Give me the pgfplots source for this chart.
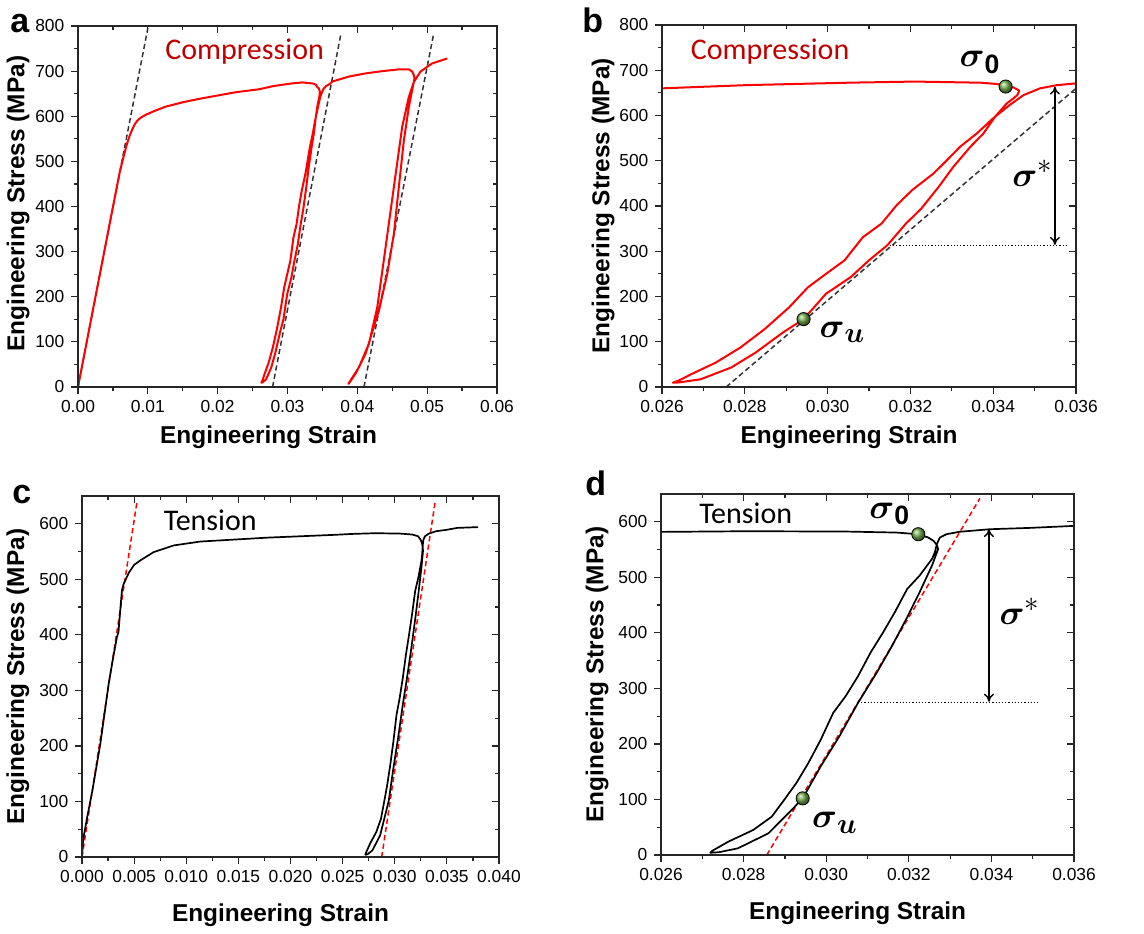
\documentclass[border=0pt]{standalone}
\usepackage{amsmath}
\usepackage{fontspec}
\setmainfont{Liberation Sans}
\newfontfamily\carlito{Carlito}
\usepackage{pgfplots}
\pgfplotsset{compat=1.18}
\usepackage{pgfplotstable}
\usetikzlibrary{arrows.meta}
\definecolor{compred}{RGB}{192,0,0}
\definecolor{curvered}{RGB}{255,0,0}
\definecolor{ballg}{RGB}{115,175,75}

\pgfplotstableread{
x y
0 0
0.0025 200
0.0050 399
0.0060 478
0.0066 515
0.0070 538
0.0074 557
0.0078 572
0.0082 584
0.0086 592
0.0091 598
0.0098 604
0.0110 612
0.0125 621
0.0150 631
0.0175 639
0.0200 646
0.0225 653
0.0250 658
0.0260 660
0.0280 667
0.0305 672.5
0.0321 675
0.0337 672.5
0.0341 669.5
0.0343 664
0.03449 662
0.03463 655
0.03458 645
0.03449 638
0.03433 627
0.03405 598
0.03376 560
0.03345 531
0.03304 487
0.03268 442
0.03226 394
0.03189 361
0.03144 313
0.0310 280
0.03056 243
0.02996 206
0.02942 150
0.02893 121
0.02826 76
0.02767 43
0.02693 17
0.02640 10
0.02626 9.6
0.02640 14
0.0267 28
0.0273 54
0.02789 87
0.02848 128
0.02907 176
0.02952 220
0.02996 250
0.03041 280
0.03085 331
0.0313 361
0.03167 402
0.03204 435
0.03256 472
0.03288 501
0.0332 531
0.0336 560
0.0340 594
0.03441 624
0.03473 645
0.03513 660
0.03553 667
0.0360 671
0.03643 677
0.0388 688
0.0412 695
0.0436 700
0.0460 704
0.0474 704
0.04786 699
0.0481 691
0.04819 684
0.04738 621
0.04667 547
0.04595 444
0.04524 340
0.04429 251
0.0431 170
0.04119 74
0.03976 30
0.03881 8
0.03871 7
0.04024 44
0.04167 96
0.04286 177
0.04405 310
0.04524 444
0.04643 577
0.04738 643
0.0481 676
0.04905 699
0.0507 717
0.05286 728
}\compdata

\pgfplotstableread{
x y
0 0
0.0001 30
0.0005 72
0.0010 120
0.00176 204
0.00256 312
0.0030 360
0.00335 396
0.0035 405
0.00365 440
0.00383 480
0.0040 492
0.0045 512
0.0050 526
0.00559 534
0.00687 549
0.00879 561
0.01134 568
0.01773 575
0.02412 580
0.0260 581.8
0.02807 583
0.03049 582.4
0.0317 580.6
0.03223 577.6
0.03247 571.6
0.0326 565.6
0.03268 558
0.03271 551
0.03256 521
0.03226 473
0.03196 428
0.03159 376
0.03122 328
0.03077 274
0.03032 214
0.02987 160
0.02943 102
0.0292 84
0.0286 39
0.02786 12
0.02740 5
0.02719 4
0.02725 8
0.02763 24
0.02823 45
0.02868 69
0.02898 99
0.02928 130
0.02957 166
0.02987 208
0.03017 256
0.03047 286
0.03077 322
0.03107 364
0.03137 400
0.03166 437
0.03196 479
0.03226 503
0.03256 533
0.03263 545
0.03268 560
0.03275 571.6
0.03291 577.6
0.03323 582
0.03396 586.6
0.03493 589
0.0360 592.6
0.0380 594
}\tensdata

\tikzset{
  sig/.style={font=\fontsize{19}{20}\selectfont, inner sep=0pt},
  lbl/.style={font=\carlito\fontsize{15}{18}\selectfont},
}

\pgfplotsset{
  common/.style={
    scale only axis, anchor=north west,
    axis line style={line width=0.7pt, black!85},
    every tick/.style={black!85, line width=0.6pt},
    major tick length=3.3pt, minor tick length=1.8pt,
    scaled x ticks=false, scaled y ticks=false,
  },
  mainax/.style={common, tick align=outside, xtick pos=left, ytick pos=left,
    ticklabel style={font=\fontsize{8.7}{10}\selectfont},
    /pgf/number format/assume math mode=true,
    label style={font=\bfseries\fontsize{12.2}{14}\selectfont},
    xlabel={Engineering Strain}, ylabel={Engineering Stress (MPa)},
  },
  overax/.style={common, tick align=inside, xtick pos=right, ytick pos=right,
    xticklabels={}, yticklabels={}},
  panelA/.style={at={(39pt,-13pt)}, width=209.5pt, height=180.5pt,
    xmin=0, xmax=0.06, ymin=0, ymax=800,
    xtick={0,0.01,0.02,0.03,0.04,0.05,0.06},
    minor xtick={0.005,0.015,0.025,0.035,0.045,0.055},
    ytick={0,100,...,800}, minor ytick={50,150,...,750},
    xticklabel style={/pgf/number format/.cd, fixed, fixed zerofill, precision=2},
    xlabel style={at={(axis description cs:0.455,-0.1385)}, anchor=center},
    ylabel style={at={(axis description cs:-0.143,0.508)}, anchor=center},
  },
  panelB/.style={at={(331pt,-12.5pt)}, width=207pt, height=181pt,
    xmin=0.026, xmax=0.036, ymin=0, ymax=800,
    xtick={0.026,0.028,0.030,0.032,0.034,0.036},
    minor xtick={0.027,0.029,0.031,0.033,0.035},
    ytick={0,100,...,800}, minor ytick={50,150,...,750},
    xticklabel style={/pgf/number format/.cd, fixed, fixed zerofill, precision=3},
    xlabel style={at={(axis description cs:0.452,-0.1385)}, anchor=center},
    ylabel style={at={(axis description cs:-0.1425,0.5)}, anchor=center},
  },
  panelC/.style={at={(41pt,-248pt)}, width=208.5pt, height=180.5pt,
    xmin=0, xmax=0.04, ymin=0, ymax=650,
    xtick={0,0.005,0.010,0.015,0.020,0.025,0.030,0.035,0.040},
    minor xtick={0.0025,0.0075,0.0125,0.0175,0.0225,0.0275,0.0325,0.0375},
    ytick={0,100,...,600}, minor ytick={50,150,...,550},
    xticklabel style={/pgf/number format/.cd, fixed, fixed zerofill, precision=3},
    xlabel style={at={(axis description cs:0.476,-0.1607)}, anchor=center},
    ylabel style={at={(axis description cs:-0.1535,0.5)}, anchor=center},
  },
  panelD/.style={at={(330.5pt,-247pt)}, width=206.5pt, height=180.5pt,
    xmin=0.026, xmax=0.036, ymin=0, ymax=650,
    xtick={0.026,0.028,0.030,0.032,0.034,0.036},
    minor xtick={0.027,0.029,0.031,0.033,0.035},
    ytick={0,100,...,600}, minor ytick={50,150,...,550},
    xticklabel style={/pgf/number format/.cd, fixed, fixed zerofill, precision=3},
    xlabel style={at={(axis description cs:0.476,-0.1607)}, anchor=center},
    ylabel style={at={(axis description cs:-0.155,0.5)}, anchor=center},
  },
  compcurve/.style={curvered, line width=1pt, line join=round},
  tenscurve/.style={black, line width=0.85pt, line join=round},
  blkdash/.style={black!80, line width=0.75pt, dash pattern=on 2.6pt off 1.6pt},
  reddash/.style={red, line width=0.75pt, dash pattern=on 2.6pt off 1.6pt},
}

\begin{document}
\begin{tikzpicture}
\useasboundingbox (0,0) rectangle (572pt,-466.5pt);

% ---------- panel a ----------
\begin{axis}[mainax, panelA]
\addplot [blkdash] coordinates {(0,0) (0.0100,795)};
\addplot [blkdash] coordinates {(0.02786,0) (0.03762,780)};
\addplot [blkdash] coordinates {(0.04095,0) (0.05095,784)};
\addplot [compcurve] table [x=x, y=y] {\compdata};
\node [lbl, text=compred] at (axis cs:0.02386,743) {Compression};
\end{axis}
\begin{axis}[overax, panelA]\end{axis}

% ---------- panel b ----------
\begin{axis}[mainax, panelB]
\addplot [blkdash] coordinates {(0.02755,0) (0.0360,660)};
\addplot [black, line width=0.6pt, densely dotted] coordinates {(0.03150,312) (0.03582,312)};
\addplot [black, line width=0.7pt, {To[length=4pt,width=5pt]}-{To[length=4pt,width=5pt]}] coordinates {(0.03549,314) (0.03549,664)};
\addplot [compcurve] table [x=x, y=y] {\compdata};
\addplot [only marks, mark=ball, mark size=3.3pt, ball color=ballg] coordinates {(0.0343,664) (0.02942,150)};
\node [lbl, text=compred] at (axis cs:0.02861,741) {Compression};
\node [sig] at (axis cs:0.03368,717) {$\boldsymbol{\sigma}_{\mathbf{0}}$};
\node [sig] at (axis cs:0.03495,472) {$\boldsymbol{\sigma}^{*}$};
\node [sig] at (axis cs:0.03036,120) {$\boldsymbol{\sigma}_{\boldsymbol{u}}$};
\end{axis}
\begin{axis}[overax, panelB]\end{axis}

% ---------- panel c ----------
\begin{axis}[mainax, panelC]
\addplot [reddash] coordinates {(0,0) (0.00527,639)};
\addplot [reddash] coordinates {(0.02875,0) (0.03387,639)};
\addplot [tenscurve] table [x=x, y=y] {\tensdata};
\node [lbl, text=black] at (axis cs:0.0123,606) {Tension};
\end{axis}
\begin{axis}[overax, panelC]\end{axis}

% ---------- panel d ----------
\begin{axis}[mainax, panelD]
\addplot [reddash] coordinates {(0.02856,0) (0.03372,642)};
\addplot [black, line width=0.6pt, densely dotted] coordinates {(0.03077,274) (0.03513,274)};
\addplot [black, line width=0.7pt, {To[length=4pt,width=5pt]}-{To[length=4pt,width=5pt]}] coordinates {(0.03394,276) (0.03394,587)};
\addplot [tenscurve] table [x=x, y=y] {\tensdata};
\addplot [only marks, mark=ball, mark size=3.3pt, ball color=ballg] coordinates {(0.03223,577.6) (0.02943,102)};
\node [lbl, text=black] at (axis cs:0.02805,615) {Tension};
\node [sig] at (axis cs:0.03154,614) {$\boldsymbol{\sigma}_{\mathbf{0}}$};
\node [sig] at (axis cs:0.03469,439) {$\boldsymbol{\sigma}^{*}$};
\node [sig] at (axis cs:0.03021,58) {$\boldsymbol{\sigma}_{\boldsymbol{u}}$};
\end{axis}
\begin{axis}[overax, panelD]\end{axis}

% panel letters
\node [anchor=base west, font=\bfseries\fontsize{17}{18}\selectfont, inner sep=0pt] at (5pt,-16pt) {a};
\node [anchor=base west, font=\bfseries\fontsize{17}{18}\selectfont, inner sep=0pt] at (291pt,-16pt) {b};
\node [anchor=base west, font=\bfseries\fontsize{17}{18}\selectfont, inner sep=0pt] at (6pt,-251.5pt) {c};
\node [anchor=base west, font=\bfseries\fontsize{17}{18}\selectfont, inner sep=0pt] at (292.5pt,-247.5pt) {d};
\end{tikzpicture}
\end{document}
